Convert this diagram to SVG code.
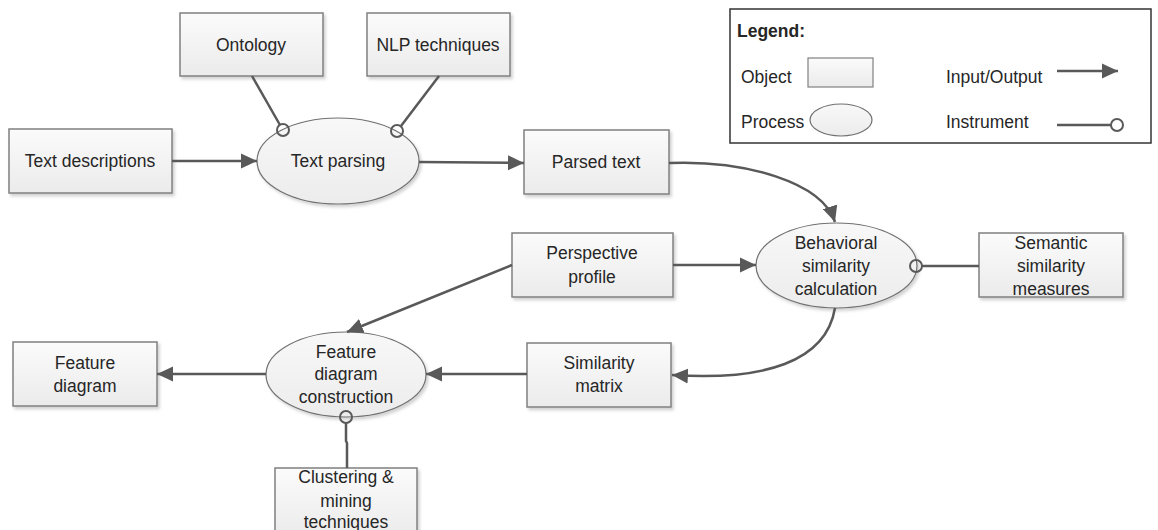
<svg xmlns="http://www.w3.org/2000/svg" width="1158" height="530" viewBox="0 0 1158 530">
<defs>
<linearGradient id="gBox" x1="0" y1="0" x2="0" y2="1"><stop offset="0" stop-color="#fbfbfb"/><stop offset="1" stop-color="#ebebeb"/></linearGradient>
<linearGradient id="gEl" x1="0" y1="0" x2="0" y2="1"><stop offset="0" stop-color="#f8f8f8"/><stop offset="1" stop-color="#ececec"/></linearGradient>
<filter id="sh" x="-10%" y="-10%" width="125%" height="130%"><feDropShadow dx="2" dy="2.5" stdDeviation="1.5" flood-color="#000" flood-opacity="0.18"/></filter>
<marker id="arr" markerUnits="userSpaceOnUse" markerWidth="18" markerHeight="16" refX="16" refY="8" orient="auto"><path d="M0,0.5 L16,8 L0,15.5 Z" fill="#595959"/></marker>
<style>
.box{fill:url(#gBox);stroke:#808080;stroke-width:1.5;filter:url(#sh)}
.el{fill:url(#gEl);stroke:#707070;stroke-width:1.2;filter:url(#sh)}
.t{font-family:"Liberation Sans",Arial,sans-serif;font-size:17.5px;fill:#262626;text-anchor:middle}
.lt{font-family:"Liberation Sans",Arial,sans-serif;font-size:17.5px;fill:#262626}
.c{fill:none;stroke:#595959;stroke-width:2.5}
.io{marker-end:url(#arr)}
.ins{fill:none;stroke:#595959;stroke-width:2}
</style>
</defs>
<rect width="1158" height="530" fill="#fff"/>

<g id="legend">
<rect x="730" y="9" width="421" height="134" fill="#fff" stroke="#333" stroke-width="1.5"/>
<text class="lt" x="737" y="37" font-weight="bold">Legend:</text>
<text class="lt" x="741" y="83">Object</text>
<rect x="808" y="58" width="65" height="29" fill="url(#gBox)" stroke="#808080" stroke-width="1.2"/>
<text class="lt" x="741" y="128">Process</text>
<ellipse cx="841" cy="120" rx="31" ry="16" fill="url(#gEl)" stroke="#707070" stroke-width="1.2"/>
<text class="lt" x="946" y="83">Input/Output</text>
<line class="c io" x1="1057" y1="71" x2="1118" y2="71"/>
<text class="lt" x="946" y="128">Instrument</text>
<line class="c" x1="1057" y1="125" x2="1111" y2="125"/>
<circle class="ins" cx="1117" cy="125" r="6" fill="#fff"/>
</g>

<g id="text-descriptions"><rect class="box" x="9" y="129" width="163" height="64"/><text class="t" x="90" y="167">Text descriptions</text></g>
<g id="ontology"><rect class="box" x="180" y="13" width="143" height="63"/><text class="t" x="251" y="51">Ontology</text></g>
<g id="nlp-techniques"><rect class="box" x="367" y="13" width="143" height="63"/><text class="t" x="438" y="51">NLP techniques</text></g>
<g id="text-parsing"><ellipse class="el" cx="338" cy="161" rx="81" ry="43"/><text class="t" x="338" y="167">Text parsing</text></g>
<g id="parsed-text"><rect class="box" x="524" y="130" width="145" height="64"/><text class="t" x="596" y="168">Parsed text</text></g>
<g id="perspective-profile"><rect class="box" x="512" y="233" width="161" height="64"/><text class="t" x="592" y="259">Perspective</text><text class="t" x="592" y="283">profile</text></g>
<g id="behavioral-similarity"><ellipse class="el" cx="836.5" cy="265.5" rx="80.5" ry="42.5"/><text class="t" x="836" y="249">Behavioral</text><text class="t" x="836" y="272">similarity</text><text class="t" x="836" y="295">calculation</text></g>
<g id="semantic-similarity"><rect class="box" x="979" y="233" width="144" height="64"/><text class="t" x="1051" y="249">Semantic</text><text class="t" x="1051" y="272">similarity</text><text class="t" x="1051" y="295">measures</text></g>
<g id="similarity-matrix"><rect class="box" x="527" y="343" width="144" height="64"/><text class="t" x="599" y="369">Similarity</text><text class="t" x="599" y="392">matrix</text></g>
<g id="feature-diagram-construction"><ellipse class="el" cx="346" cy="374.5" rx="80" ry="42.5"/><text class="t" x="346" y="358">Feature</text><text class="t" x="346" y="380">diagram</text><text class="t" x="346" y="403">construction</text></g>
<g id="feature-diagram"><rect class="box" x="13" y="342" width="144" height="64"/><text class="t" x="85" y="369">Feature</text><text class="t" x="85" y="392">diagram</text></g>
<g id="clustering-mining"><rect class="box" x="275" y="468" width="142" height="70"/><text class="t" x="346" y="483">Clustering &amp;</text><text class="t" x="346" y="507">mining</text><text class="t" x="346" y="528">techniques</text></g>

<g id="connectors">
<line class="c io" x1="172" y1="161" x2="257" y2="161"/>
<line class="c io" x1="419" y1="162" x2="524" y2="163"/>
<path class="c io" d="M669,163 C745,160 822,182 835,222"/>
<line class="c io" x1="673" y1="265" x2="756" y2="265"/>
<path class="c io" d="M835,308 C826,362 764,381 672,375"/>
<line class="c io" x1="527" y1="374" x2="426" y2="374"/>
<line class="c io" x1="512" y1="265" x2="347" y2="332"/>
<line class="c io" x1="266" y1="374" x2="157" y2="374"/>
<line class="c" x1="252" y1="76" x2="280" y2="125"/>
<line class="c" x1="439" y1="76" x2="401" y2="126"/>
<line class="c" x1="979" y1="266" x2="922" y2="266"/>
<polyline class="c" points="346,423 346,441 347,443 347,468"/>
<circle class="ins" cx="283" cy="130" r="6"/>
<circle class="ins" cx="397" cy="131" r="6"/>
<circle class="ins" cx="916" cy="266" r="6"/>
<circle class="ins" cx="346" cy="417" r="6"/>
</g>
</svg>
